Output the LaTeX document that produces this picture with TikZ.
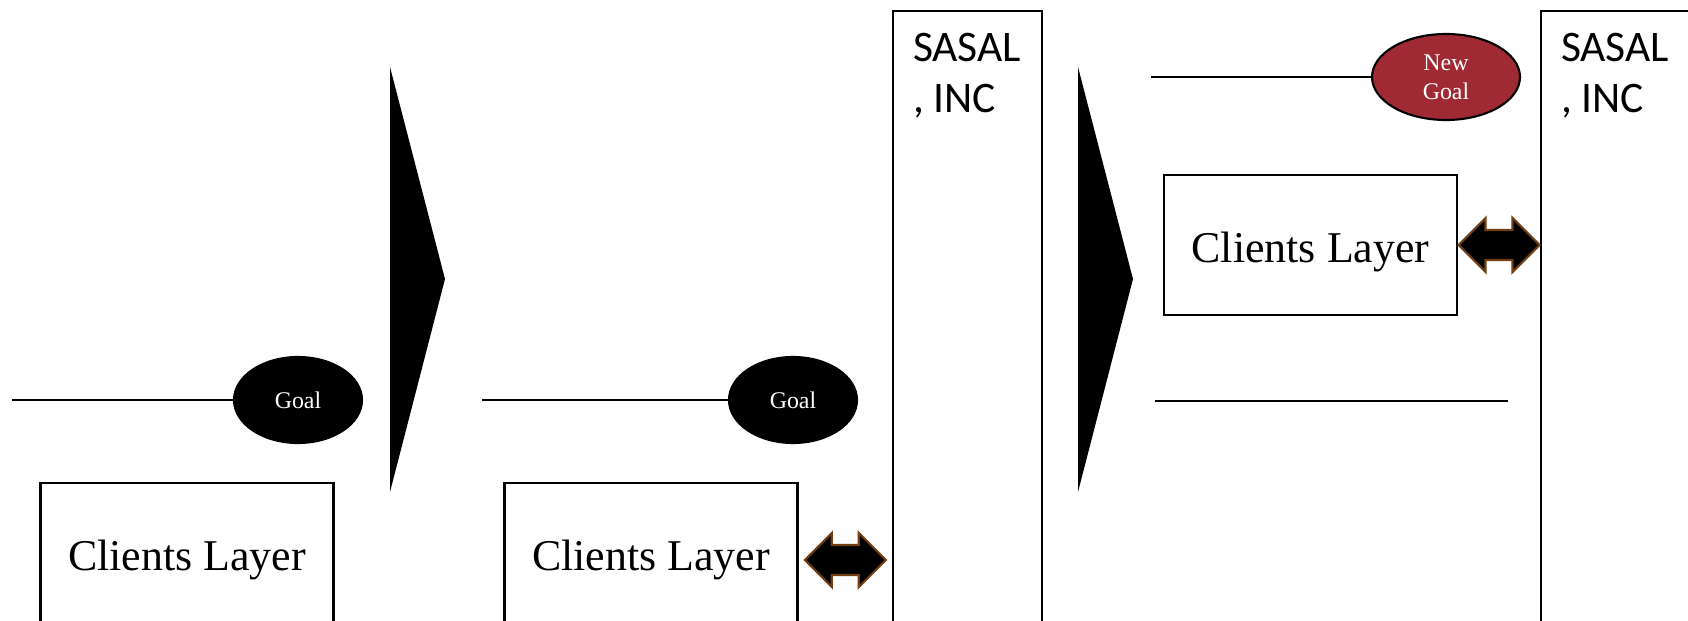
\documentclass[tikz,border=0pt]{standalone}
\usepackage{fontspec}
\setmainfont{Liberation Serif}
\newfontfamily\calibrifont{Carlito}
\usepackage{tikz}
\usetikzlibrary{shapes,arrows,positioning,calc}
\definecolor{goalred}{RGB}{160,42,52}
\definecolor{linkbrown}{RGB}{112,62,18}
\tikzset{
layer/.style = {draw, fill=white, rectangle, align = center, minimum width=2.93cm, minimum height=1.40cm, text height=0.44cm, text depth=0.1cm, font=\fontsize{12.5}{15}\selectfont},
goal/.style = {draw, fill=black, ellipse, align = center, inner sep=0pt, minimum width=1.28cm, minimum height=0.86cm, text=white, font=\fontsize{6.8}{8.2}\selectfont},
company/.style = {draw, rectangle, anchor=north west, minimum width=1.49cm, minimum height=6.5cm},
companytext/.style = {inner sep=0pt, anchor=north west, align=left, font=\calibrifont\fontsize{12.4}{14.6}\selectfont},
link/.style = {draw=linkbrown, fill=black, line join=miter},
stage/.style = {fill=black},
}
\begin{document}
\begin{tikzpicture}[line width=0.6pt]
        \useasboundingbox (0,0) rectangle (16.88,6.20);
        \clip (0,0) rectangle (16.88,6.20);
        %first stage
        \coordinate (start1) at (0.12,2.20);
        \node [goal] (goal1) at (2.98,2.20) {Goal};
        \node [layer] (clients1) at (1.87,0.67) {Clients Layer};
        \draw (start1) -- (goal1);
        \fill [stage] (3.90,5.53) -- (4.45,3.41) -- (3.90,1.28) -- cycle;

        %second stage
        \coordinate (start2) at (4.82,2.20);
        \node [goal] (goal2) at (7.93,2.20) {Goal};
        \node [layer] (clients2) at (6.51,0.67) {Clients Layer};
        \draw (start2) -- (goal2);
        \node [company] (sasal1) at (8.92,6.10) {};
        \node [companytext] at (9.12,5.88) {SASAL\\, INC};
        %double arrow between clients and sasal
        \coordinate (link1) at ($(clients2.east)!0.5!(clients2.east -| sasal1.west)+(0,-0.07)$);
        \filldraw [link] ($(link1)+(-0.405,0)$) -- ++(0.27,0.27) -- ++(0,-0.12) -- ++(0.27,0) -- ++(0,0.12)
                -- ++(0.27,-0.27) -- ++(-0.27,-0.27) -- ++(0,0.12) -- ++(-0.27,0) -- ++(0,-0.12) -- cycle;
        \fill [stage] (10.78,5.53) -- (11.33,3.41) -- (10.78,1.28) -- cycle;

        %third stage
        \coordinate (start3) at (11.51,5.43);
        \node [goal, fill=goalred, minimum width=1.48cm] (goal3) at (14.46,5.43) {New\\Goal};
        \draw (start3) -- (goal3);
        \node [layer] (clients3) at (13.105,3.75) {Clients Layer};
        \coordinate (old1) at (11.55,2.19);
        \coordinate (old2) at (15.08,2.19);
        \draw (old1) -- (old2);
        \node [company] (sasal2) at (15.40,6.10) {};
        \node [companytext] at (15.60,5.88) {SASAL\\, INC};
        \coordinate (link2) at ($(clients3.east)!0.5!(clients3.east -| sasal2.west)$);
        \filldraw [link] ($(link2)+(-0.405,0)$) -- ++(0.27,0.27) -- ++(0,-0.12) -- ++(0.27,0) -- ++(0,0.12)
                -- ++(0.27,-0.27) -- ++(-0.27,-0.27) -- ++(0,0.12) -- ++(-0.27,0) -- ++(0,-0.12) -- cycle;
\end{tikzpicture}
\end{document}
